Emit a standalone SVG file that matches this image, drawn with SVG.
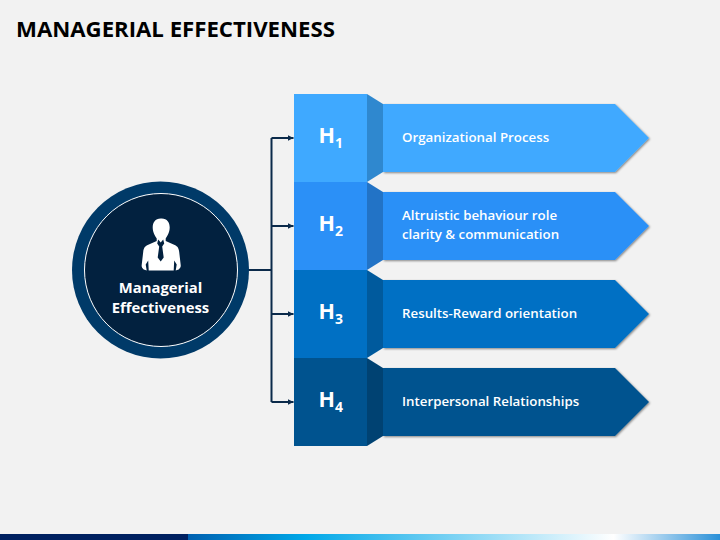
<svg xmlns="http://www.w3.org/2000/svg" width="720" height="540" viewBox="0 0 720 540">
<style>
text{font-family:"Open Sans","Noto Sans",sans-serif;fill:#fff}
.t{font-size:13.300px;font-weight:600}
.h{font-size:21.500px;font-weight:700}
.s{font-size:14px;font-weight:700}
.c{font-size:14.800px;font-weight:700;text-anchor:middle}
.l{fill:none;stroke:#0b2a4a;stroke-width:2}
</style>
<defs>
<linearGradient id="bar" x1="188" x2="720" y1="0" y2="0" gradientUnits="userSpaceOnUse">
<stop offset="0" stop-color="#0060b0"/><stop offset="0.22" stop-color="#00a8e8"/><stop offset="0.8" stop-color="#ffffff"/><stop offset="1" stop-color="#2a90d8"/>
</linearGradient>
<filter id="sh" x="-5%" y="-10%" width="110%" height="125%"><feDropShadow dx="1" dy="1" stdDeviation="1" flood-color="#000" flood-opacity="0.45"/></filter>
<marker id="ah" markerWidth="7" markerHeight="7" refX="6" refY="3.500" orient="auto" markerUnits="userSpaceOnUse"><path d="M0 0.500L6 3.500L0 6.500Z" fill="#0b2a4a"/></marker>
</defs>
<rect width="720" height="540" fill="#f2f2f2"/>
<text x="16" y="37" font-size="22.200" font-weight="700" style="fill:#000">MANAGERIAL EFFECTIVENESS</text>
<g id="connectors">
<path class="l" d="M248 270H271.500M271.500 138V402"/>
<path class="l" d="M271.500 138H293.500" marker-end="url(#ah)"/>
<path class="l" d="M271.500 226H293.500" marker-end="url(#ah)"/>
<path class="l" d="M271.500 314H293.500" marker-end="url(#ah)"/>
<path class="l" d="M271.500 402H293.500" marker-end="url(#ah)"/>
</g>
<g id="center">
<circle cx="160.500" cy="270" r="88.500" fill="#003a68"/>
<circle cx="161" cy="270" r="76.500" fill="#02213f" stroke="#fff" stroke-width="1"/>
<path fill="#fff" transform="translate(.7 -.5)" d="M160 219c-5.500 0-8 4-8 9c0 5 2.500 8.500 4 11l0 2.500l-9 4c-3 1.500-4 3-4.500 7l-1.500 13c-.3 2 .5 3 2 4.500l3 1l-1 -6l2.500 -4l.5 10h25l.5-10l2.500 4l-1 6l3-1c1.500-1.500 2.300-2.500 2-4.500l-1.500-13c-.5-4-1.500-5.500-4.500-7l-9-4l0-2.500c1.500-2.500 4-6 4-11c0-5-2.500-9-8-9z"/>
<path fill="#02213f" transform="translate(.7 -.5)" d="M157.500 240L160 243L162.500 240L163.500 244L161.500 247L163 258L160 262L157 258L158.500 247L156.500 244Z"/>
<text class="c" x="160.500" y="293">Managerial</text>
<text class="c" x="160.500" y="313">Effectiveness</text>
</g>
<g id="h1">
<path d="M383 104H615L649 138L615 172H383Z" fill="#3fa9ff" filter="url(#sh)"/>
<path d="M367 94L383 104V172L367 182Z" fill="#2f88cf"/>
<rect x="294" y="94" width="73" height="88" fill="#3fa9ff"/>
<text class="h" x="318.500" y="143">H<tspan class="s" dy="5">1</tspan></text>
<text class="t" x="402" y="142">Organizational Process</text>
</g>
<g id="h2">
<path d="M383 192H615L649 226L615 260H383Z" fill="#2b90f7" filter="url(#sh)"/>
<path d="M367 182L383 192V260L367 270Z" fill="#2273c6"/>
<rect x="294" y="182" width="73" height="88" fill="#2b90f7"/>
<text class="h" x="318.500" y="231">H<tspan class="s" dy="5">2</tspan></text>
<text class="t" x="402" y="220">Altruistic behaviour role</text>
<text class="t" x="402" y="239">clarity &amp; communication</text>
</g>
<g id="h3">
<path d="M383 280H615L649 314L615 348H383Z" fill="#0070c4" filter="url(#sh)"/>
<path d="M367 270L383 280V348L367 358Z" fill="#005a9d"/>
<rect x="294" y="270" width="73" height="88" fill="#0070c4"/>
<text class="h" x="318.500" y="319">H<tspan class="s" dy="5">3</tspan></text>
<text class="t" x="402" y="318">Results-Reward orientation</text>
</g>
<g id="h4">
<path d="M383 368H615L649 402L615 436H383Z" fill="#00538f" filter="url(#sh)"/>
<path d="M367 358L383 368V436L367 446Z" fill="#004272"/>
<rect x="294" y="358" width="73" height="88" fill="#00538f"/>
<text class="h" x="318.500" y="407">H<tspan class="s" dy="5">4</tspan></text>
<text class="t" x="402" y="406">Interpersonal Relationships</text>
</g>
<rect x="0" y="534" width="188" height="6" fill="#002060"/>
<rect x="188" y="534" width="532" height="6" fill="url(#bar)"/>
</svg>
